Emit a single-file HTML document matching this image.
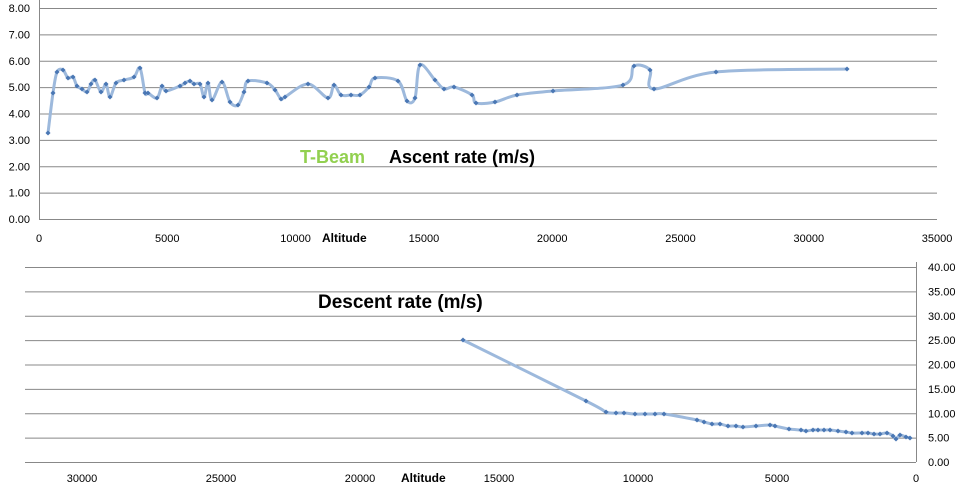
<!DOCTYPE html><html><head><style>body{margin:0;background:#fff}svg{display:block;font-family:"Liberation Sans",sans-serif}</style></head><body>
<svg id="s" width="963" height="492" viewBox="0 0 963 492">
<g stroke="#888" stroke-width="1" id="g"></g>
<g id="t" font-size="11" fill="#000"></g>
<text x="300" y="163" font-size="18" font-weight="bold" fill="#92D050">T-Beam</text>
<text x="389" y="163" font-size="18" font-weight="bold">Ascent rate (m/s)</text>
<text x="318" y="308" font-size="19" font-weight="bold">Descent rate (m/s)</text>
<text x="322" y="242" font-size="12" font-weight="bold">Altitude</text>
<text x="401" y="482" font-size="12" font-weight="bold">Altitude</text>
<path id="p1" fill="none" stroke="#9DB9DC" stroke-width="3"/>
<path id="p2" fill="none" stroke="#9DB9DC" stroke-width="3"/>
<g id="m" fill="#4A77B4"></g>
</svg>
<script>
var NS="http://www.w3.org/2000/svg",g=document.getElementById('g'),t=document.getElementById('t'),m=document.getElementById('m');
function L(x1,y1,x2,y2){var e=document.createElementNS(NS,'line');e.setAttribute('x1',x1);e.setAttribute('y1',y1);e.setAttribute('x2',x2);e.setAttribute('y2',y2);g.appendChild(e);}
function T(x,y,s,a){var e=document.createElementNS(NS,'text');e.setAttribute('x',x);e.setAttribute('y',y);e.setAttribute('text-anchor',a);e.textContent=s;t.appendChild(e);}
for(var k=0;k<=8;k++){var y=8+26.375*k;L(39,y+.5,937,y+.5);T(30,y+4,(8-k).toFixed(2),'end');}
L(39.5,0,39.5,219);
for(var k=0;k<=7;k++){var x=39+128.3*k;T(x,242,k==0?'0':String(k*5000),'middle');}
for(var k=0;k<=8;k++){var y=267+24.375*k;L(25,y+.5,916,y+.5);T(928,y+4,(40-5*k).toFixed(2),'start');}
L(916.5,262,916.5,462);
for(var k=0;k<=6;k++){var x=916-139*k;T(x,482,k==0?'0':String(k*5000),'middle');}
var a=[[48,133],[53,93],[57,72],[63,70],[68,78],[73,77],[77,86],[82,89],[87,92],[91,84],[95,80],[101,92],[106,84],[110,97],[116,83],[124,80],[134,77],[140,68],[145,93],[148,93],[157,98],[162,86],[166,91],[180,86],[185,83],[190,81],[194,84],[200,84],[204,97],[208,83],[212,100],[222,82],[230,102],[238,105],[244,92],[248,81],[267,83],[275,90],[281,99],[285,97],[308,84],[328,98],[334,85],[341,95],[351,95],[360,95],[369,87],[375,78],[398,81],[407,101],[415,98],[420,65],[435,80],[444,89],[454,87],[472,95],[476,103],[495,102],[517,95],[553,91],[623,85],[634,66],[650,70],[654,89],[716,72],[847,69]];
var b=[[463,340],[586,401],[606,412],[616,413],[624,413],[635,414],[645,414],[655,414],[664,414],[697,420],[704,422],[712,424],[720,424],[728,426],[736,426],[743,427],[756,426],[770,425],[775,426],[789,429],[801,430],[806,431],[813,430],[818,430],[824,430],[830,430],[838,431],[846,432],[852,433],[862,433],[868,433],[874,434],[880,434],[887,433],[893,436],[896,439],[900,435],[906,437],[910,438]];
function cr(p){var d='M'+p[0];for(var i=0;i<p.length-1;i++){var p0=p[i-1]||p[i],p1=p[i],p2=p[i+1],p3=p[i+2]||p2;d+='C'+(p1[0]+(p2[0]-p0[0])/6)+','+(p1[1]+(p2[1]-p0[1])/6)+' '+(p2[0]-(p3[0]-p1[0])/6)+','+(p2[1]-(p3[1]-p1[1])/6)+' '+p2;}return d;}
document.getElementById('p1').setAttribute('d',cr(a));
document.getElementById('p2').setAttribute('d',cr(b));
a.concat(b).forEach(function(q){var e=document.createElementNS(NS,'rect');e.setAttribute('x',q[0]-1.8);e.setAttribute('y',q[1]-1.8);e.setAttribute('width',3.6);e.setAttribute('height',3.6);e.setAttribute('transform','rotate(45 '+q[0]+' '+q[1]+')');m.appendChild(e);});
</script>
</body></html>
